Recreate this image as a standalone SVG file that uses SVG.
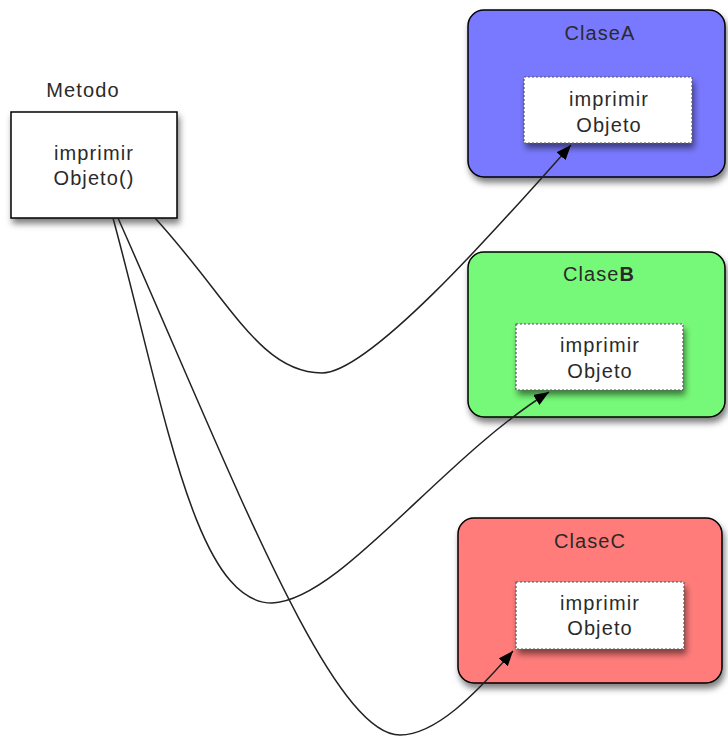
<svg xmlns="http://www.w3.org/2000/svg" width="728" height="736" viewBox="0 0 728 736">
<defs>
<filter id="sh" x="-20%" y="-20%" width="150%" height="160%">
<feDropShadow dx="2" dy="5" stdDeviation="3" flood-color="#000" flood-opacity="0.5"/>
</filter>
<marker id="arr" markerUnits="userSpaceOnUse" markerWidth="17" markerHeight="12" refX="15" refY="6" orient="auto">
<path d="M0,0 L15,6 L0,12 Z" fill="#000"/>
</marker>
<style>
text{font-family:"Liberation Sans",Arial,sans-serif;font-size:20px;fill:#2a2a2a;text-anchor:middle;letter-spacing:1.1px}
.cls{stroke:#000;stroke-width:1.5;filter:url(#sh)}
.inner{fill:#fff;stroke:#555;stroke-width:1.2;stroke-dasharray:2,2;filter:url(#sh)}
.conn{fill:none;stroke:#222;stroke-width:1.5;marker-end:url(#arr)}
</style>
</defs>
<g id="metodo">
<text x="83" y="97">Metodo</text>
<rect x="11" y="112" width="166" height="106" fill="#fff" stroke="#000" stroke-width="1.5" filter="url(#sh)"/>
<text x="94" y="160">imprimir</text>
<text x="94" y="185">Objeto()</text>
</g>
<g id="claseA">
<rect class="cls" x="468" y="10" width="257" height="167" rx="16" fill="#7979FF"/>
<text x="600" y="40">ClaseA</text>
<rect class="inner" x="524" y="77" width="168" height="66"/>
<text x="609" y="106">imprimir</text>
<text x="609" y="132">Objeto</text>
</g>
<g id="claseB">
<rect class="cls" x="468" y="252" width="257" height="165" rx="16" fill="#76F978"/>
<text x="599" y="281">Clase<tspan font-weight="bold">B</tspan></text>
<rect class="inner" x="516" y="324" width="167" height="66"/>
<text x="600" y="352">imprimir</text>
<text x="600" y="378">Objeto</text>
</g>
<g id="claseC">
<rect class="cls" x="458" y="518" width="264" height="165" rx="16" fill="#FF7C7A"/>
<text x="590" y="548">ClaseC</text>
<rect class="inner" x="516" y="582" width="168" height="67"/>
<text x="600" y="610">imprimir</text>
<text x="600" y="635">Objeto</text>
</g>
<g id="connectors">
<path class="conn" d="M155,218 C230,300 260,373 322,373 C370,373 500,225 571,145"/>
<path class="conn" d="M113,218 C165,410 195,603 272,603 C340,600 440,460 549,392"/>
<path class="conn" d="M118,218 C230,470 330,735 400,735 C435,735 475,695 513,651"/>
</g>
</svg>
